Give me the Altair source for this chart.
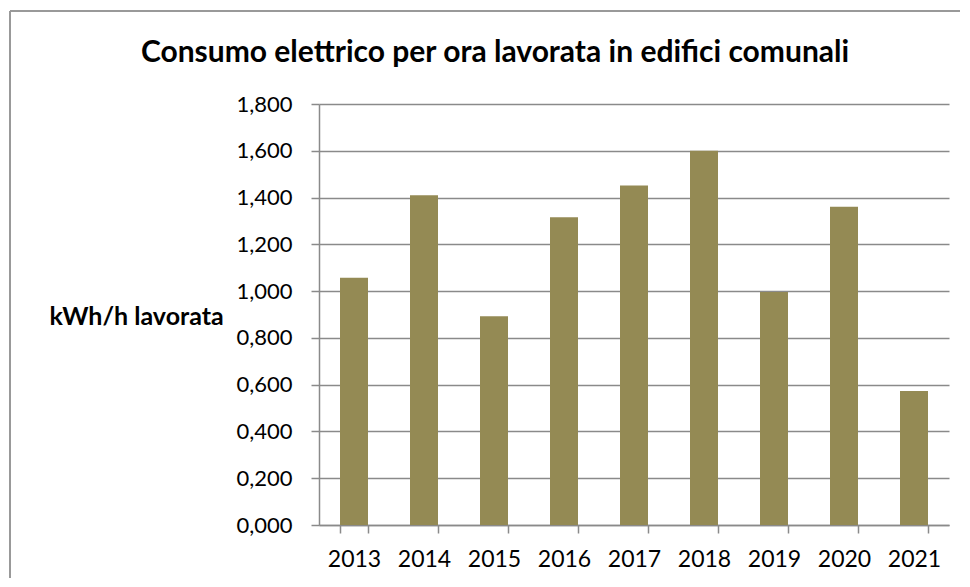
import altair as alt
import pandas as pd

years = ["2013", "2014", "2015", "2016", "2017", "2018", "2019", "2020", "2021"]
values = [1.057, 1.410, 0.892, 1.316, 1.452, 1.600, 0.996, 1.361, 0.573]
y_ticks = [0.0, 0.2, 0.4, 0.6, 0.8, 1.0, 1.2, 1.4, 1.6, 1.8]

title_text = "Consumo elettrico per ora lavorata in edifici comunali"
y_title = "kWh/h lavorata"

df = pd.DataFrame({"anno": years, "valore": values})

FONT = "Lato"
GRID = "#8a8a8a"

bars = alt.Chart(df).mark_bar(color="#948A54").encode(
    x=alt.X(
        "anno:N",
        sort=years,
        scale=alt.Scale(paddingInner=0.6, paddingOuter=0.3),
        axis=alt.Axis(
            title=None,
            labelAngle=0,
            tickBand="extent",
            tickSize=8,
            tickColor=GRID,
            tickWidth=1.5,
            domainColor=GRID,
            domainWidth=1.5,
            labelFont=FONT,
            labelFontSize=23,
            labelColor="#000000",
            labelPadding=15,
            grid=False,
        ),
    ),
    y=alt.Y(
        "valore:Q",
        scale=alt.Scale(domain=[0, 1.8], nice=False),
        axis=alt.Axis(
            title=y_title,
            titleAngle=0,
            titleX=-270,
            titleY=212,
            titleAlign="left",
            titleBaseline="middle",
            titleFont=FONT,
            titleFontSize=25,
            titleFontWeight="bold",
            titleColor="#000000",
            values=y_ticks,
            labelExpr="replace(format(datum.value, '.3f'), '.', ',')",
            labelFont=FONT,
            labelFontSize=22,
            labelColor="#000000",
            labelPadding=19,
            tickSize=8,
            tickColor=GRID,
            tickWidth=1.5,
            domainColor=GRID,
            domainWidth=1.5,
            gridColor=GRID,
            gridWidth=1.5,
        ),
    ),
)

frame_data = alt.Data(values=[{"t": title_text}])
left_line = alt.Chart(frame_data).mark_rule(color="#999999", strokeWidth=2).encode(
    x=alt.value(-309), y=alt.value(-93), y2=alt.value(474)
)
top_line = alt.Chart(frame_data).mark_rule(color="#999999", strokeWidth=2).encode(
    x=alt.value(-309), x2=alt.value(641), y=alt.value(-93)
)
title_mark = alt.Chart(frame_data).mark_text(
    font=FONT,
    fontSize=30,
    fontWeight="bold",
    color="#000000",
    align="center",
    baseline="alphabetic",
).encode(
    text="t:N",
    x=alt.value(176),
    y=alt.value(-42),
)

chart = alt.layer(bars, left_line, top_line, title_mark).properties(
    width=630,
    height=421,
    padding={"left": 1, "top": 2, "right": 0, "bottom": 0},
).configure_view(stroke=None)

chart.save("out.html", embed_options={"renderer": "svg", "actions": False})
